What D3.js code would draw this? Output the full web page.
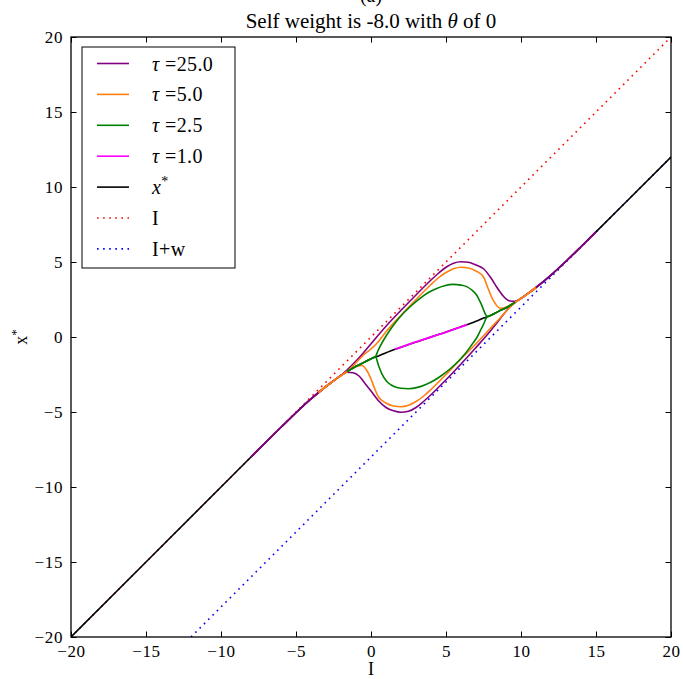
<!DOCTYPE html>
<html>
<head>
<meta charset="utf-8">
<script src="https://cdn.jsdelivr.net/npm/d3@7"></script>
<style>
  body { margin: 0; background: #fff; }
  svg { font-family: "Liberation Serif", "DejaVu Serif", serif; }
</style>
</head>
<body>
<svg id="chart" width="683" height="679"></svg>
<script>
// tick values
var xTicks = [-20, -15, -10, -5, 0, 5, 10, 15, 20];
var yTicks = [-20, -15, -10, -5, 0, 5, 10, 15, 20];

// reference lines, [I, x]
var lineI = [[-20, -20], [20, 20]];
var lineIw = [[-12, -20], [20, 12]];

// fixed point x*
var xStar = [[-20, -20], [-15, -15], [-10, -10], [-8, -8], [-6, -6.02], [-5, -5.05], [-4, -4.13],
  [-3, -3.3], [-2.5, -2.92], [-2, -2.57], [-1.5, -2.25], [-1, -1.95], [-0.5, -1.71], [0, -1.45],
  [0.5, -1.26], [1, -1.05], [2, -0.68], [3, -0.33], [4, 0], [5, 0.33], [6, 0.68], [7, 1.05],
  [7.5, 1.26], [8, 1.45], [8.5, 1.71], [9, 1.95], [9.5, 2.25], [10, 2.57], [10.5, 2.92],
  [11, 3.3], [12, 4.13], [13, 5.05], [14, 6.02], [15, 7.01], [17, 9], [20, 12]];

// tau = 25, max and min of x
var tau25Upper = [[-8, -8], [-6, -6.02], [-4, -4.13], [-3, -3.3], [-2.5, -2.92], [-2, -2.55],
  [-1.6, -2.2], [-1, -1.6], [-0.5, -1.05], [0, -0.45], [1, 0.72], [2, 1.78], [3, 2.8], [4, 3.8],
  [4.5, 4.25], [5, 4.65], [5.5, 4.92], [6, 5.02], [6.5, 4.98], [7, 4.8], [7.5, 4.55], [8, 3.93],
  [8.4, 3.3], [8.8, 2.75], [9.2, 2.42], [9.6, 2.38], [10, 2.57], [10.5, 2.92], [11, 3.3],
  [12, 4.13], [13, 5.05], [14, 6.02], [15, 7.01]];
var tau25Lower = [[-8, -8], [-6, -6.02], [-4, -4.13], [-3, -3.3], [-2.5, -2.92], [-2, -2.55],
  [-1.6, -2.35], [-1.2, -2.38], [-0.8, -2.6], [-0.4, -3.1], [0, -3.6], [0.5, -4.25], [1, -4.7],
  [1.5, -4.92], [2, -5.02], [2.5, -4.95], [3, -4.7], [3.5, -4.3], [4, -3.85], [5, -2.85],
  [6, -1.8], [7, -0.7], [8, 0.45], [8.6, 1.2], [9.2, 1.95], [9.6, 2.3], [10, 2.57], [10.5, 2.92],
  [11, 3.3], [12, 4.13], [13, 5.05], [14, 6.02], [15, 7.01]];

// tau = 5
var tau5Upper = [[-3.5, -3.7], [-3, -3.3], [-2.5, -2.92], [-2, -2.57], [-1.5, -2.22], [-1, -1.72],
  [-0.5, -1.2], [0, -0.8], [0.5, -0.3], [1, 0.35], [2, 1.45], [3, 2.5], [4, 3.5], [4.5, 3.95],
  [5, 4.3], [5.5, 4.55], [6, 4.65], [6.5, 4.6], [7, 4.4], [7.5, 4.0], [7.8, 3.25], [8, 2.75],
  [8.3, 2.2], [8.6, 1.92], [9, 1.98], [9.5, 2.25], [10, 2.57], [10.5, 2.92], [11, 3.3]];
var tau5Lower = [[-3.5, -3.7], [-3, -3.3], [-2.5, -2.92], [-2, -2.57], [-1.5, -2.25], [-1, -1.98],
  [-0.6, -1.9], [-0.3, -2.2], [0, -2.8], [0.25, -3.45], [0.5, -4.0], [1, -4.4], [1.5, -4.6],
  [2, -4.65], [2.5, -4.55], [3, -4.3], [3.5, -3.95], [4, -3.5], [5, -2.5], [6, -1.45],
  [7, -0.45], [7.5, 0.08], [8, 0.62], [8.5, 1.15], [9, 1.7], [9.5, 2.2], [10, 2.57],
  [10.5, 2.92], [11, 3.3]];

// tau = 2.5
var tau2Upper = [[-1.6, -2.31], [-1, -1.95], [-0.5, -1.71], [0, -1.45], [0.3, -1.3], [0.45, -0.95],
  [0.6, -0.64], [0.9, -0.1], [1.27, 0.47], [1.7, 1.05], [2.16, 1.58], [2.7, 2.1], [3.27, 2.58],
  [3.8, 2.95], [4.38, 3.24], [4.9, 3.42], [5.49, 3.51], [6, 3.46], [6.38, 3.36], [6.7, 3.15],
  [7.04, 2.8], [7.25, 2.4], [7.38, 2.13], [7.6, 1.58], [7.75, 1.36], [8, 1.45], [8.5, 1.71],
  [9, 1.95], [9.6, 2.31]];
var tau2Lower = [[-1.6, -2.31], [-1, -1.95], [-0.5, -1.71], [0, -1.45], [0.3, -1.32], [0.49, -1.87],
  [0.71, -2.42], [1.04, -2.95], [1.35, -3.2], [1.62, -3.33], [2, -3.42], [2.5, -3.45], [3.1, -3.36],
  [3.62, -3.18], [4.2, -2.9], [4.73, -2.55], [5.3, -2.1], [5.84, -1.6], [6.3, -1.08],
  [6.73, -0.5], [7.05, -0.05], [7.35, 0.55], [7.55, 0.95], [7.72, 1.32], [8, 1.45], [8.5, 1.71],
  [9, 1.95], [9.6, 2.31]];

// tau = 1, stable
var tau1 = [[1.6, -0.83], [2, -0.68], [3, -0.33], [4, 0], [5, 0.33], [6, 0.68], [6.4, 0.82]];

var legendNames = ["25.0", "5.0", "2.5", "1.0"];
var legendColors = ["purple", "#ff7f0e", "green", "#ff00ff", "black", "red", "blue"];

var svg = d3.select("#chart");

var x = d3.scaleLinear().domain([-20, 20]).range([71, 671]);
var y = d3.scaleLinear().domain([-20, 20]).range([637, 37]);

var line = d3.line()
  .x(function(d) { return x(d[0]); })
  .y(function(d) { return y(d[1]); })
  .curve(d3.curveMonotoneX);

var plot = svg.append("g");

plot.append("defs").append("clipPath").attr("id", "clip")
  .append("rect").attr("x", 71).attr("y", 37).attr("width", 600).attr("height", 600);

var lines = plot.append("g").attr("clip-path", "url(#clip)").style("fill", "none");

lines.append("path").attr("d", line(lineI))
  .attr("stroke", "red").attr("stroke-width", 1.6).attr("stroke-dasharray", "1.6,4.5");
lines.append("path").attr("d", line(lineIw))
  .attr("stroke", "blue").attr("stroke-width", 1.6).attr("stroke-dasharray", "1.6,4.5");
lines.append("path").attr("d", line(xStar)).attr("stroke", "black").attr("stroke-width", 1.6);

var series = [[tau25Upper, tau25Lower], [tau5Upper, tau5Lower], [tau2Upper, tau2Lower], [tau1]];
series.forEach(function(s, i) {
  s.forEach(function(branch) {
    lines.append("path").attr("d", line(branch))
      .attr("stroke", legendColors[i]).attr("stroke-width", i === 3 ? 1.9 : 1.6);
  });
});

// axes
var fmt = function(d) { return d < 0 ? "\u2212" + Math.abs(d) : d; };
var xAxis = d3.axisBottom(x).tickValues(xTicks).tickSizeInner(-5.5).tickSizeOuter(0).tickPadding(7.5)
  .tickFormat(fmt);
var yAxis = d3.axisLeft(y).tickValues(yTicks).tickSizeInner(-5.5).tickSizeOuter(0).tickPadding(8)
  .tickFormat(fmt);

svg.append("g").attr("transform", "translate(0,637)").call(xAxis);
svg.append("g").attr("transform", "translate(71,0)").call(yAxis);
svg.append("g").attr("transform", "translate(0,37)")
  .call(d3.axisTop(x).tickValues(xTicks).tickSizeInner(-5.5).tickSizeOuter(0).tickFormat(""));
svg.append("g").attr("transform", "translate(671,0)")
  .call(d3.axisRight(y).tickValues(yTicks).tickSizeInner(-5.5).tickSizeOuter(0).tickFormat(""));

svg.selectAll(".tick text").style("font-family", "Liberation Serif").style("font-size", "17px")
  .style("letter-spacing", "0.6px").attr("fill", "#000");
svg.selectAll(".tick line").attr("stroke", "#000");
svg.selectAll(".domain").remove();

svg.append("rect").attr("x", 71).attr("y", 37).attr("width", 600).attr("height", 600)
  .attr("fill", "none").attr("stroke", "#000").attr("stroke-width", 1.3);

// titles
svg.append("text").attr("x", 371).attr("y", 2).attr("text-anchor", "middle")
  .style("font-size", "20px").text("(a)");
var title = svg.append("text").attr("x", 371).attr("y", 28).attr("text-anchor", "middle")
  .style("font-size", "21px");
title.append("tspan").text("Self weight is -8.0 with ");
title.append("tspan").style("font-style", "italic").text("\u03b8");
title.append("tspan").text(" of 0");

svg.append("text").attr("x", 371).attr("y", 675).attr("text-anchor", "middle")
  .style("font-size", "18px").text("I");

var ylab = svg.append("text").attr("transform", "translate(27,337) rotate(-90)")
  .attr("text-anchor", "middle").style("font-size", "18px");
ylab.append("tspan").text("x");
ylab.append("tspan").attr("dy", -7).style("font-size", "13px").text("*");

// legend
var legend = svg.append("g");
legend.append("rect").attr("x", 82).attr("y", 47).attr("width", 153).attr("height", 221)
  .attr("fill", "#fff").attr("stroke", "#000").attr("stroke-width", 1);

var labels = legendNames.map(function(n) { return "tau" + n; }).concat(["xstar", "I", "Iw"]);
labels.forEach(function(lab, i) {
  var ry = 63.5 + i * 30.9;
  var ln = legend.append("line").attr("x1", 97).attr("x2", 129).attr("y1", ry).attr("y2", ry)
    .attr("stroke", legendColors[i]).attr("stroke-width", 1.6);
  if (i > 4) ln.attr("stroke-dasharray", "1.6,4.5");
  var t = legend.append("text").attr("x", 152).attr("y", ry + 7).style("font-size", "20px")
    .style("letter-spacing", "0.4px");
  if (i < 4) {
    t.append("tspan").style("font-style", "italic").text("\u03c4");
    t.append("tspan").text(" =" + legendNames[i]);
  } else if (i === 4) {
    t.append("tspan").style("font-style", "italic").text("x");
    t.append("tspan").attr("dy", -8).style("font-size", "14px").text("*");
  } else if (i === 5) {
    t.text("I");
  } else {
    t.text("I+w");
  }
});
</script>
</body>
</html>
